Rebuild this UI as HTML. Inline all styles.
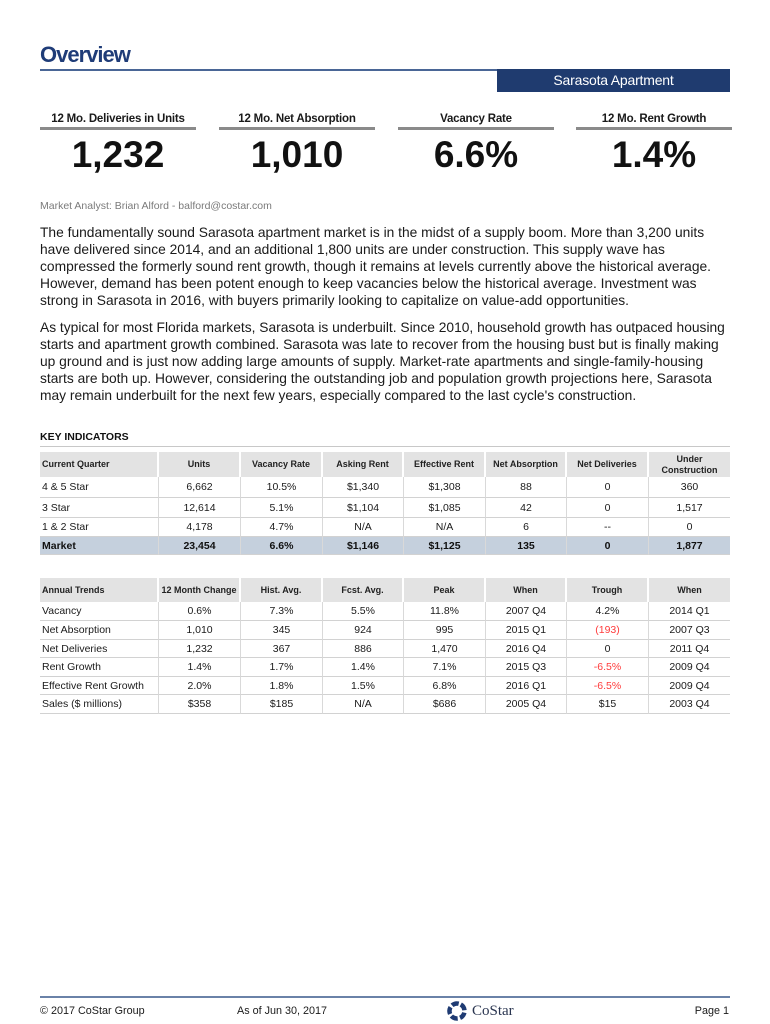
<!DOCTYPE html>
<html>
<head>
<meta charset="utf-8">
<style>
*{margin:0;padding:0;box-sizing:border-box;}
html,body{width:770px;height:1024px;background:#fff;overflow:hidden;}
body{position:relative;font-family:"Liberation Sans",Arial,Helvetica,sans-serif;color:#1a1a1a;}
.a{position:absolute;white-space:nowrap;}
.title{left:40px;top:44px;font-size:22px;line-height:22px;font-weight:bold;color:#1f3c78;letter-spacing:-1px;}
.rule{left:40px;top:69px;width:690px;height:2px;background:#4a6696;}
.box{left:497px;top:69px;width:233px;height:23px;background:#1f3b6f;color:#fff;font-size:14px;line-height:23px;text-align:center;letter-spacing:-0.2px;}
.kl{font-size:11.5px;font-weight:bold;line-height:14px;text-align:center;top:112px;width:156px;color:#1a1a1a;letter-spacing:-0.2px;}
.kb{top:127px;width:156px;height:3px;background:#8a8a8a;}
.kn{font-size:37px;font-weight:bold;line-height:40px;text-align:center;top:135px;width:156px;color:#111;}
.analyst{left:40px;top:199px;font-size:10.5px;line-height:14px;color:#7a7a7a;}
.p{left:40px;font-size:13.8px;line-height:17px;color:#1a1a1a;}
.ki{left:40px;top:430px;font-size:10.5px;font-weight:bold;line-height:14px;color:#111;}
.kline{left:40px;top:446px;width:690px;height:1px;background:#c8c8c8;}
table.t{position:absolute;left:40px;width:690px;table-layout:fixed;border-collapse:separate;border-spacing:0;}
table.t th{background:#e3e3e3;border-right:2px solid #fff;font-size:9px;font-weight:bold;color:#222;text-align:center;line-height:11px;padding:0;}
table.t th:last-child{border-right:none;}
table.t th.l{text-align:left;padding-left:2px;}
table.t td{border-right:1px solid #d9d9d9;border-bottom:1px solid #d2d2d2;font-size:10.5px;text-align:center;padding:0;line-height:12px;color:#1a1a1a;white-space:nowrap;}
table.t td:last-child{border-right:none;}
table.t td.l{text-align:left;padding-left:2px;}
table.t tr.m td{background:#c5d0dd;font-weight:bold;color:#111;}
.red{color:#ff3b3b !important;}
.fline{left:40px;top:996px;width:690px;height:2px;background:#6a82a8;}
.ft{top:1004px;font-size:10.8px;line-height:14px;color:#1a1a1a;}
</style>
</head>
<body>
<div class="a title">Overview</div>
<div class="a rule"></div>
<div class="a box">Sarasota Apartment</div>

<div class="a kl" style="left:40px">12 Mo. Deliveries in Units</div>
<div class="a kl" style="left:219px">12 Mo. Net Absorption</div>
<div class="a kl" style="left:398px">Vacancy Rate</div>
<div class="a kl" style="left:576px">12 Mo. Rent Growth</div>
<div class="a kb" style="left:40px"></div>
<div class="a kb" style="left:219px"></div>
<div class="a kb" style="left:398px"></div>
<div class="a kb" style="left:576px"></div>
<div class="a kn" style="left:40px">1,232</div>
<div class="a kn" style="left:219px">1,010</div>
<div class="a kn" style="left:398px">6.6%</div>
<div class="a kn" style="left:576px">1.4%</div>

<div class="a analyst">Market Analyst: Brian Alford - balford@costar.com</div>

<div class="a p" style="top:224px">The fundamentally sound Sarasota apartment market is in the midst of a supply boom. More than 3,200 units<br>have delivered since 2014, and an additional 1,800 units are under construction. This supply wave has<br>compressed the formerly sound rent growth, though it remains at levels currently above the historical average.<br>However, demand has been potent enough to keep vacancies below the historical average. Investment was<br>strong in Sarasota in 2016, with buyers primarily looking to capitalize on value-add opportunities.</div>

<div class="a p" style="top:319px">As typical for most Florida markets, Sarasota is underbuilt. Since 2010, household growth has outpaced housing<br>starts and apartment growth combined. Sarasota was late to recover from the housing bust but is finally making<br>up ground and is just now adding large amounts of supply. Market-rate apartments and single-family-housing<br>starts are both up. However, considering the outstanding job and population growth projections here, Sarasota<br>may remain underbuilt for the next few years, especially compared to the last cycle's construction.</div>

<div class="a ki">KEY INDICATORS</div>
<div class="a kline"></div>

<table class="t" style="top:452px">
<colgroup><col style="width:119px"><col style="width:82px"><col style="width:82px"><col style="width:81px"><col style="width:82px"><col style="width:81px"><col style="width:82px"><col style="width:81px"></colgroup>
<tr style="height:25px"><th class="l">Current Quarter</th><th>Units</th><th>Vacancy Rate</th><th>Asking Rent</th><th>Effective Rent</th><th>Net Absorption</th><th>Net Deliveries</th><th>Under<br>Construction</th></tr>
<tr style="height:21px"><td class="l">4 &amp; 5 Star</td><td>6,662</td><td>10.5%</td><td>$1,340</td><td>$1,308</td><td>88</td><td>0</td><td>360</td></tr>
<tr style="height:20px"><td class="l">3 Star</td><td>12,614</td><td>5.1%</td><td>$1,104</td><td>$1,085</td><td>42</td><td>0</td><td>1,517</td></tr>
<tr style="height:19px"><td class="l">1 &amp; 2 Star</td><td>4,178</td><td>4.7%</td><td>N/A</td><td>N/A</td><td>6</td><td>--</td><td>0</td></tr>
<tr class="m" style="height:18px"><td class="l">Market</td><td>23,454</td><td>6.6%</td><td>$1,146</td><td>$1,125</td><td>135</td><td>0</td><td>1,877</td></tr>
</table>

<table class="t" style="top:578px">
<colgroup><col style="width:119px"><col style="width:82px"><col style="width:82px"><col style="width:81px"><col style="width:82px"><col style="width:81px"><col style="width:82px"><col style="width:81px"></colgroup>
<tr style="height:24px"><th class="l">Annual Trends</th><th>12 Month Change</th><th>Hist. Avg.</th><th>Fcst. Avg.</th><th>Peak</th><th>When</th><th>Trough</th><th>When</th></tr>
<tr style="height:19px"><td class="l">Vacancy</td><td>0.6%</td><td>7.3%</td><td>5.5%</td><td>11.8%</td><td>2007 Q4</td><td>4.2%</td><td>2014 Q1</td></tr>
<tr style="height:19px"><td class="l">Net Absorption</td><td>1,010</td><td>345</td><td>924</td><td>995</td><td>2015 Q1</td><td class="red">(193)</td><td>2007 Q3</td></tr>
<tr style="height:18px"><td class="l">Net Deliveries</td><td>1,232</td><td>367</td><td>886</td><td>1,470</td><td>2016 Q4</td><td>0</td><td>2011 Q4</td></tr>
<tr style="height:19px"><td class="l">Rent Growth</td><td>1.4%</td><td>1.7%</td><td>1.4%</td><td>7.1%</td><td>2015 Q3</td><td class="red">-6.5%</td><td>2009 Q4</td></tr>
<tr style="height:18px"><td class="l">Effective Rent Growth</td><td>2.0%</td><td>1.8%</td><td>1.5%</td><td>6.8%</td><td>2016 Q1</td><td class="red">-6.5%</td><td>2009 Q4</td></tr>
<tr style="height:19px"><td class="l">Sales ($ millions)</td><td>$358</td><td>$185</td><td>N/A</td><td>$686</td><td>2005 Q4</td><td>$15</td><td>2003 Q4</td></tr>
</table>

<div class="a fline"></div>
<div class="a ft" style="left:40px">© 2017 CoStar Group</div>
<div class="a ft" style="left:237px">As of Jun 30, 2017</div>
<svg class="a" style="left:446px;top:1000px" width="22" height="22" viewBox="0 0 22 22">
<circle cx="11" cy="11" r="7.5" fill="none" stroke="#1f3b73" stroke-width="4.5" stroke-dasharray="7 2.4" transform="rotate(-60 11 11)"/>
</svg>
<div class="a" style="left:472px;top:1002px;font-family:'Liberation Serif',serif;font-size:15px;line-height:18px;color:#2a3550;">CoStar</div>
<div class="a ft" style="left:690px;width:39px;text-align:right;">Page 1</div>
</body>
</html>
